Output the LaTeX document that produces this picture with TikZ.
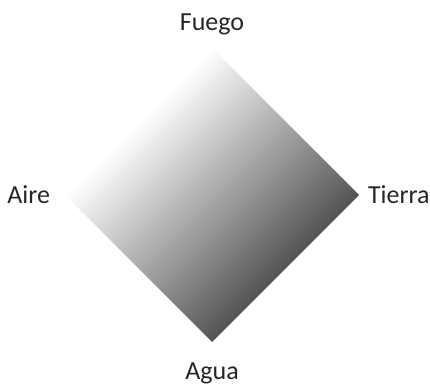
\documentclass[tikz,border=0pt]{standalone}
\usepackage{fontspec}
\setmainfont{Carlito}
\usetikzlibrary{shapes.geometric, positioning}

% white on the upper left side, grey on the lower right side
\pgfdeclareverticalshading{elementshade}{100bp}{color(0bp)=(black!67); color(32.3bp)=(black!67); color(67.7bp)=(white); color(100bp)=(white)}

\begin{document}
\begin{tikzpicture}[
      x=1pt, y=1pt,
      element/.style={diamond, inner sep=0pt, outer sep=0pt, minimum width=294pt, minimum height=294pt,
        shading=elementshade, shading angle=45},
      lbl/.style={inner sep=0pt, outer sep=0pt, text=black!85, font=\fontsize{26}{30}\selectfont}
    ]
    \useasboundingbox (0,0) rectangle (430,388);

    \node[element] (d) at (212,193) {};
    \node[lbl, above=13pt of d.north] (fuego) {Fuego};
    \node[lbl, left=15pt of d.west] (aire) {Aire};
    \node[lbl, right=9pt of d.east] (tierra) {Tierra};
    \node[lbl, below=21pt of d.south] (agua) {Agua};
  \end{tikzpicture}
\end{document}
